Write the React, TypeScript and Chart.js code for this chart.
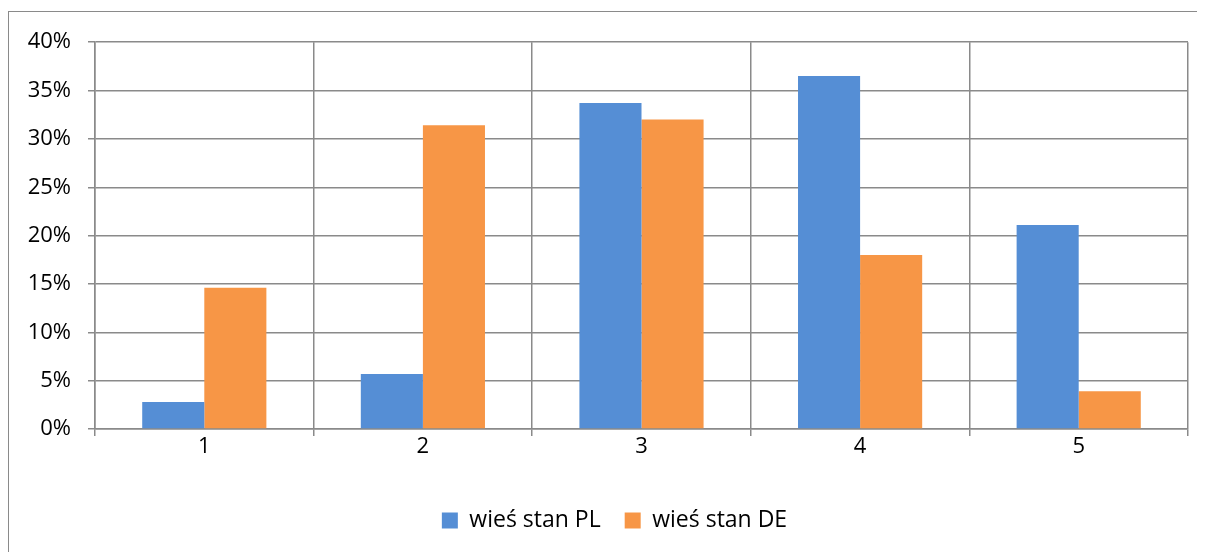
import React, { useEffect, useRef } from "react";
import { Chart, registerables } from "chart.js";

Chart.register(...registerables);

const categories = ["1", "2", "3", "4", "5"];
const plValues = [2.8, 5.7, 33.7, 36.5, 21.1];
const deValues = [14.6, 31.4, 32.0, 18.0, 3.9];
const seriesNames = ["wieś stan PL", "wieś stan DE"];
const yTicks = [0, 5, 10, 15, 20, 25, 30, 35, 40];

const FONT = "'Open Sans'";
const GRID = "#8a8a8a";

const legendShift = {
  id: "legendShift",
  afterLayout(chart: any) {
    const lg = chart.legend;
    if (lg) {
      lg.left += 16;
      lg.right += 16;
    }
  },
};

export default function App() {
  const ref = useRef<HTMLCanvasElement | null>(null);

  useEffect(() => {
    document.documentElement.style.overflow = "hidden";
    const canvas = ref.current;
    if (!canvas) return;
    const chart = new Chart(canvas, {
      type: "bar",
      data: {
        labels: categories,
        datasets: [
          {
            label: seriesNames[0],
            data: plValues,
            backgroundColor: "#558ed5",
            categoryPercentage: 0.568,
            barPercentage: 1,
          },
          {
            label: seriesNames[1],
            data: deValues,
            backgroundColor: "#f79646",
            categoryPercentage: 0.568,
            barPercentage: 1,
          },
        ],
      },
      plugins: [legendShift],
      options: {
        animation: false,
        responsive: false,
        maintainAspectRatio: false,
        layout: { padding: { top: 29, right: 17, bottom: 10, left: 0 } },
        plugins: {
          tooltip: { enabled: false },
          legend: {
            position: "bottom",
            labels: {
              boxWidth: 16,
              boxHeight: 16,
              padding: 24,
              color: "#000",
              font: { family: FONT, size: 23 },
            },
          },
        },
        scales: {
          x: {
            grid: {
              offset: true,
              color: GRID,
              lineWidth: 1.5,
              tickLength: 7,
            },
            border: { color: GRID, width: 1.5 },
            ticks: {
              color: "#000",
              font: { family: FONT, size: 22 },
              padding: -2,
            },
            afterFit: (s: any) => {
              s.height = 56;
            },
          },
          y: {
            min: 0,
            max: 40,
            afterBuildTicks: (s: any) => {
              s.ticks = yTicks.map((v) => ({ value: v }));
            },
            grid: { color: GRID, lineWidth: 1.5, tickLength: 7 },
            border: { color: GRID, width: 1.5 },
            ticks: {
              color: "#000",
              font: { family: FONT, size: 22 },
              padding: 17,
              callback: (v: any) => v + "%",
            },
            afterFit: (s: any) => {
              s.width = 86;
            },
          },
        },
      },
    });
    return () => chart.destroy();
  }, []);

  return (
    <div style={{ position: "relative", width: 1197, height: 544, overflow: "hidden" }}>
      <div
        style={{
          position: "absolute",
          left: 0,
          top: 3,
          width: 1197,
          height: 541,
          borderLeft: "1px solid " + GRID,
          borderTop: "1px solid " + GRID,
          boxSizing: "border-box",
        }}
      >
        <canvas ref={ref} width={1196} height={540} style={{ display: "block" }} />
      </div>
    </div>
  );
}
